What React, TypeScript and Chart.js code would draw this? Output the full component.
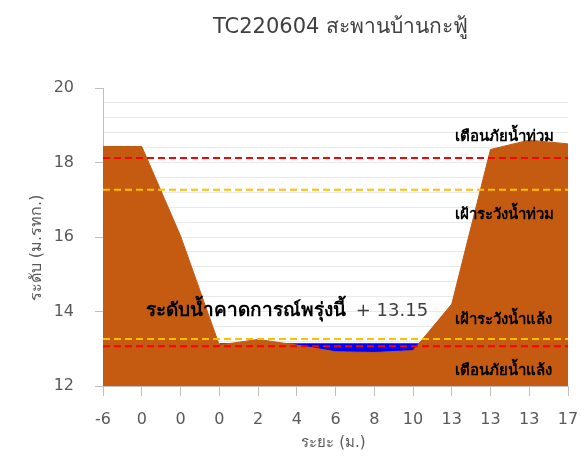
import React, { useEffect, useRef } from "react";
import { Chart, registerables } from "chart.js";

Chart.register(...registerables);

const TITLE = "TC220604 สะพานบ้านกะฟู้";
const Y_TITLE = "ระดับ (ม.รทก.)";
const X_TITLE = "ระยะ (ม.)";
const X_LABELS = ["-6", "0", "0", "0", "2", "4", "6", "8", "10", "13", "13", "13", "17"];
const GROUND = [18.43, 18.43, 16.03, 13.1, 13.25, 13.1, 12.92, 12.9, 12.95, 14.2, 18.35, 18.6, 18.5];
const WATER: (number | null)[] = [null, null, null, 13.15, 13.15, 13.15, 13.15, 13.15, 13.15, 13.15, null, null, null];
const WATER_LEVEL_TEXT = "ระดับน้ำคาดการณ์พรุ่งนี้";
const WATER_LEVEL_VALUE = "+ 13.15";
const FLOOD_WARN = 18.12;
const FLOOD_WATCH = 17.27;
const DROUGHT_WATCH = 13.26;
const DROUGHT_WARN = 13.07;
const FLOOD_WARN_TEXT = "เตือนภัยน้ำท่วม";
const FLOOD_WATCH_TEXT = "เฝ้าระวังน้ำท่วม";
const DROUGHT_WATCH_TEXT = "เฝ้าระวังน้ำแล้ง";
const DROUGHT_WARN_TEXT = "เตือนภัยน้ำแล้ง";

const FONT = "Tahoma, 'DejaVu Sans', sans-serif";

const textPlugin = {
  id: "texts",
  afterDatasetsDraw(chart: any) {
    const { ctx, chartArea, scales } = chart;
    const x = scales.x;
    const y = scales.y;
    ctx.save();
    // title
    ctx.fillStyle = "#404040";
    ctx.font = `21px ${FONT}`;
    ctx.textAlign = "center";
    ctx.textBaseline = "middle";
    ctx.fillText(TITLE, (chartArea.left + chartArea.right) / 2 + 5, 28);

    // axis titles
    ctx.fillStyle = "#595959";
    ctx.font = `15px ${FONT}`;
    ctx.fillText(X_TITLE, (chartArea.left + chartArea.right) / 2 - 2, 443);
    ctx.save();
    ctx.font = `16px ${FONT}`;
    ctx.translate(37, (chartArea.top + chartArea.bottom) / 2 + 11);
    ctx.rotate(-Math.PI / 2);
    ctx.fillText(Y_TITLE, 0, 0);
    ctx.restore();

    // level labels
    ctx.textAlign = "left";
    ctx.fillStyle = "#000000";
    ctx.font = `bold 15px ${FONT}`;
    const lx = x.getPixelForValue(9) + 3;
    ctx.fillText(FLOOD_WARN_TEXT, lx, y.getPixelForValue(FLOOD_WARN) - 21);
    ctx.fillText(FLOOD_WATCH_TEXT, lx, y.getPixelForValue(FLOOD_WATCH) + 25);
    ctx.fillText(DROUGHT_WATCH_TEXT, lx, y.getPixelForValue(DROUGHT_WATCH) - 19);
    ctx.fillText(DROUGHT_WARN_TEXT, lx, y.getPixelForValue(DROUGHT_WARN) + 25);

    // forecast label
    const fx = x.getPixelForValue(1) + 4;
    const fy = y.getPixelForValue(14);
    ctx.font = `bold 19px ${FONT}`;
    ctx.fillStyle = "#000000";
    ctx.fillText(WATER_LEVEL_TEXT, fx, fy);
    const w = ctx.measureText(WATER_LEVEL_TEXT).width;
    ctx.font = `18px ${FONT}`;
    ctx.fillStyle = "#404040";
    ctx.fillText(WATER_LEVEL_VALUE, fx + w + 10, fy);
    ctx.restore();
  },
};

export default function App() {
  const ref = useRef<HTMLCanvasElement | null>(null);
  useEffect(() => {
    if (!ref.current) return;
    const constLine = (v: number) => X_LABELS.map(() => v);
    const chart = new Chart(ref.current, {
      type: "line",
      data: {
        labels: X_LABELS,
        datasets: [
          { label: "fw", data: constLine(FLOOD_WARN), borderColor: "#ff0000", borderDash: [7, 4], borderWidth: 2, pointRadius: 0, fill: false, order: 0 },
          { label: "fwa", data: constLine(FLOOD_WATCH), borderColor: "#ffc000", borderDash: [7, 4], borderWidth: 2, pointRadius: 0, fill: false, order: 0 },
          { label: "dwa", data: constLine(DROUGHT_WATCH), borderColor: "#ffc000", borderDash: [7, 4], borderWidth: 2, pointRadius: 0, fill: false, order: 0 },
          { label: "dw", data: constLine(DROUGHT_WARN), borderColor: "#ff0000", borderDash: [7, 4], borderWidth: 2, pointRadius: 0, fill: false, order: 0 },
          { label: "ground", data: GROUND, borderColor: "#c55a11", backgroundColor: "#c55a11", borderWidth: 1, pointRadius: 0, fill: "start", tension: 0, order: 1 },
          { label: "water", data: WATER, borderColor: "#0000ff", backgroundColor: "#0000ff", borderWidth: 0, pointRadius: 0, fill: "start", spanGaps: false, order: 2 },
        ],
      },
      options: {
        animation: false,
        responsive: true,
        maintainAspectRatio: false,
        layout: { padding: { top: 88, right: 13, left: 0, bottom: 0 } },
        plugins: { legend: { display: false }, tooltip: { enabled: false }, title: { display: false } },
        scales: {
          x: {
            type: "category",
            offset: false,
            grid: { display: true, drawOnChartArea: false, drawTicks: true, tickLength: 10, tickColor: "#bfbfbf" },
            border: { color: "#bfbfbf" },
            ticks: { color: "#595959", font: { size: 16, family: FONT }, padding: 14, autoSkip: false, maxRotation: 0 },
            afterFit: (s: any) => { s.height = 71; s.paddingRight = 0; s.paddingLeft = 0; },
          },
          y: {
            min: 12,
            max: 20,
            grid: {
              color: (c: any) => (c.tick && c.tick.value > 19.99 ? "rgba(0,0,0,0)" : "#e9e9e9"),
              tickColor: (c: any) => {
                const v = c.tick ? c.tick.value : 0;
                return Math.abs(v - Math.round(v / 2) * 2) < 1e-6 ? "#bfbfbf" : "rgba(0,0,0,0)";
              },
              tickLength: 8,
            },
            border: { color: "#bfbfbf" },
            ticks: {
              stepSize: 0.4,
              autoSkip: false,
              color: "#595959",
              font: { size: 16, family: FONT },
              padding: 21,
              callback: (v: any) => {
                const n = Number(v);
                return Math.abs(n - Math.round(n / 2) * 2) < 1e-6 ? String(Math.round(n)) : "";
              },
            },
            afterFit: (s: any) => { s.width = 103; s.paddingTop = 0; s.paddingBottom = 0; },
          },
        },
      },
      plugins: [textPlugin],
    } as any);
    return () => chart.destroy();
  }, []);
  return (
    <div style={{ position: "fixed", left: 0, top: 0, width: 581, height: 457 }}>
      <canvas ref={ref} />
    </div>
  );
}
